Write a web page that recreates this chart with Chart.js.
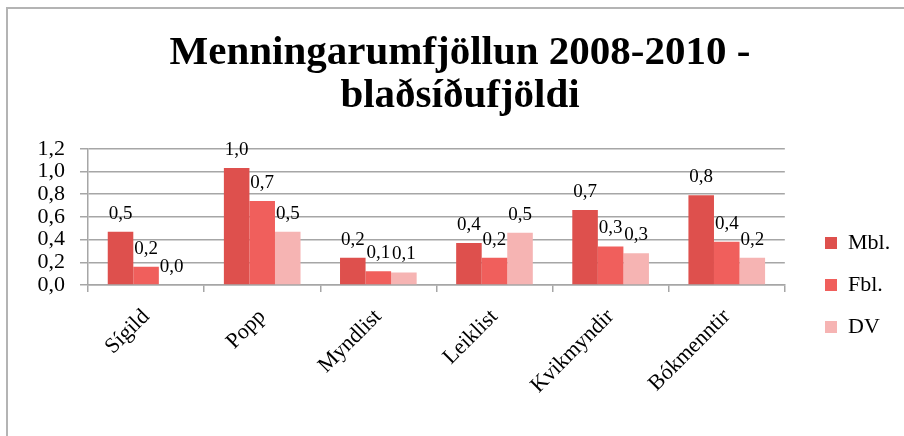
<!DOCTYPE html>
<html><head><meta charset="utf-8">
<script src="https://cdn.jsdelivr.net/npm/chart.js@4/dist/chart.umd.min.js"></script>
<style>html,body{margin:0;padding:0;background:#fff;overflow:hidden}#wrap{width:904px;height:436px}</style>
</head><body><div id="wrap"><canvas id="c" width="904" height="436"></canvas></div>
<script>
const categories = ['Sígild', 'Popp', 'Myndlist', 'Leiklist', 'Kvikmyndir', 'Bókmenntir'];
const seriesNames = ['Mbl.', 'Fbl.', 'DV'];
const mblValues = [0.47, 1.03, 0.24, 0.37, 0.66, 0.79];
const fblValues = [0.16, 0.74, 0.12, 0.24, 0.34, 0.38];
const dvValues = [0.00, 0.47, 0.11, 0.46, 0.28, 0.24];
const yMin = 0, yMax = 1.2, yStep = 0.2;
const titleLines = ['Menningarumfjöllun 2008-2010 -', 'blaðsíðufjöldi'];

const colors = ['#de504d', '#f05f5c', '#f6b4b3'];
const fmt = v => Number(v).toFixed(1).replace('.', ',');
const SERIF = "'Liberation Serif', 'DejaVu Serif', serif";
const GRID = '#a6a6a6';

const framePlugin = {
  id: 'frame',
  beforeDraw(chart) {
    const ctx = chart.ctx;
    ctx.save();
    ctx.fillStyle = '#fff';
    ctx.fillRect(0, 0, chart.width, chart.height);
    ctx.strokeStyle = '#b4b4b4';
    ctx.lineWidth = 2;
    ctx.beginPath();
    ctx.moveTo(7, chart.height);
    ctx.lineTo(7, 8);
    ctx.lineTo(chart.width, 8);
    ctx.stroke();
    ctx.restore();
  }
};

const labelPlugin = {
  id: 'barLabels',
  afterDatasetsDraw(chart) {
    const ctx = chart.ctx;
    ctx.save();
    ctx.font = '19px ' + SERIF;
    ctx.fillStyle = '#000';
    ctx.textAlign = 'center';
    ctx.textBaseline = 'middle';
    chart.data.datasets.forEach((ds, i) => {
      const meta = chart.getDatasetMeta(i);
      meta.data.forEach((bar, j) => {
        ctx.fillText(fmt(ds.data[j]), bar.x, bar.y - 18);
      });
    });
    ctx.restore();
  }
};

const boxShift = {
  id: 'boxShift',
  afterLayout(chart) {
    const L = chart.legend;
    if (L) {
      const pad = 20;
      const dx = 825 - pad - L.left;
      const dy = 232 - pad - L.top;
      L.left += dx; L.right += dx;
      L.top += dy; L.bottom += dy;
    }
    const T = chart.titleBlock;
    if (T) {
      const c = (T.left + T.right) / 2;
      const dx = 460 - c;
      T.left += dx; T.right += dx;
    }
  }
};

new Chart(document.getElementById('c'), {
  type: 'bar',
  data: {
    labels: categories,
    datasets: [
      { label: seriesNames[0], data: mblValues, backgroundColor: colors[0] },
      { label: seriesNames[1], data: fblValues, backgroundColor: colors[1] },
      { label: seriesNames[2], data: dvValues, backgroundColor: colors[2] }
    ]
  },
  options: {
    responsive: false,
    animation: false,
    devicePixelRatio: 1,
    layout: { padding: { left: 16, right: 24, top: 0, bottom: 0 } },
    datasets: { bar: { categoryPercentage: 0.66, barPercentage: 1.0 } },
    plugins: {
      title: {
        display: true,
        text: titleLines,
        color: '#000',
        font: { family: SERIF, size: 41, weight: 'bold', lineHeight: 1.07 },
        padding: { top: 31, bottom: 30 }
      },
      legend: {
        display: true,
        position: 'right',
        align: 'start',
        labels: {
          boxWidth: 12, boxHeight: 12, padding: 20,
          color: '#000',
          font: { family: SERIF, size: 22 }
        }
      },
      tooltip: { enabled: false }
    },
    scales: {
      x: {
        grid: { display: true, drawOnChartArea: false, drawTicks: true, tickLength: 7, color: GRID, lineWidth: 1.5 },
        border: { display: true, color: GRID, width: 1.5 },
        ticks: { color: '#000', font: { family: SERIF, size: 22 }, minRotation: 45, maxRotation: 45, padding: 12, autoSkip: false },
        afterFit(s) { s.height = 151; }
      },
      y: {
        min: yMin, max: yMax,
        grid: { color: GRID, lineWidth: 1.5, tickLength: 8 },
        border: { display: true, color: GRID, width: 1.5 },
        ticks: { stepSize: yStep, color: '#000', font: { family: SERIF, size: 22 }, padding: 15, autoSkip: false, callback: v => fmt(v) },
        afterFit(s) { s.width = 72; }
      }
    }
  },
  plugins: [framePlugin, labelPlugin, boxShift]
});
</script>
</body></html>
